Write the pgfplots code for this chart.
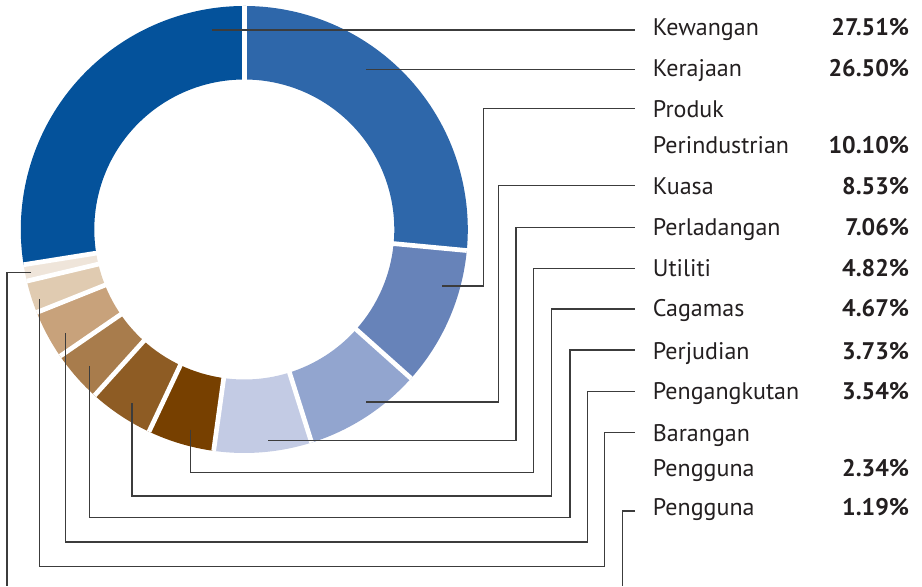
\documentclass[border=0pt]{standalone}
\usepackage{pgfplots}
\pgfplotsset{compat=1.18}
\usepackage{fontspec}
\setmainfont{PT Sans}
\definecolor{cKew}{HTML}{04529B}
\definecolor{cKer}{HTML}{2E67AA}
\definecolor{cPro}{HTML}{6783B9}
\definecolor{cKua}{HTML}{92A5CF}
\definecolor{cPer}{HTML}{C3CBE4}
\definecolor{cUti}{HTML}{774000}
\definecolor{cCag}{HTML}{8E5C24}
\definecolor{cJud}{HTML}{A87C4C}
\definecolor{cAng}{HTML}{C8A27B}
\definecolor{cBar}{HTML}{E0CBB1}
\definecolor{cPen}{HTML}{EFE5DA}
\definecolor{cLine}{HTML}{3C3C3C}
\definecolor{cText}{HTML}{231F20}
\tikzset{
  lab/.style={font=\fontsize{24bp}{29bp}\selectfont, text=cText, inner sep=0pt, anchor=base west},
  pct/.style={font=\fontsize{24bp}{29bp}\selectfont\bfseries, text=cText, inner sep=0pt, anchor=base east}}
\def\cx{244.3}
\def\cy{356.5}
% #1 = cumulative share before this slice (%), #2 = share (%), #3 = colour
\newcommand\donutwedge[3]{%
  \fill[#3] (axis cs:\cx,\cy) ++({90-3.6*(#1)}:223.5bp)
    arc[start angle={90-3.6*(#1)}, delta angle={-3.6*(#2)}, radius=223.5bp]
    -- ++({90-3.6*(#1+#2)}:-73.5bp)
    arc[start angle={90-3.6*(#1+#2)}, delta angle={3.6*(#2)}, radius=150bp]
    -- cycle;}
\newcommand\sep[1]{\draw[white, line width=4.7bp] (axis cs:\cx,\cy) -- ++({90-3.6*(#1)}:223.5bp);}
\begin{document}
\begin{tikzpicture}
\begin{axis}[x=1bp, y=1bp, xmin=0, xmax=922, ymin=0, ymax=586,
  hide axis, clip=false]
\path (axis cs:0,0) rectangle (axis cs:922,586);
% slices, clockwise from 12 o'clock
\donutwedge{0}{26.50}{cKer}
\donutwedge{26.50}{10.10}{cPro}
\donutwedge{36.60}{8.53}{cKua}
\donutwedge{45.13}{7.06}{cPer}
\donutwedge{52.19}{4.82}{cUti}
\donutwedge{57.01}{4.67}{cCag}
\donutwedge{61.68}{3.73}{cJud}
\donutwedge{65.41}{3.54}{cAng}
\donutwedge{68.95}{2.34}{cBar}
\donutwedge{71.29}{1.19}{cPen}
\donutwedge{72.48}{27.51}{cKew}
\sep{0}\sep{26.50}\sep{36.60}\sep{45.13}\sep{52.19}\sep{57.01}\sep{61.68}\sep{65.41}\sep{68.95}\sep{71.29}\sep{72.48}
% leader lines
\begin{scope}[cLine, line width=1.3bp]
\draw (axis cs:212,556) -- (axis cs:635,556);
\draw (axis cs:366,516.3) -- (axis cs:635,516.3);
\draw (axis cs:442,300) -- (axis cs:483.3,300) -- (axis cs:483.3,477.7) -- (axis cs:635,477.7);
\draw (axis cs:366,184) -- (axis cs:498.3,184) -- (axis cs:498.3,400.3) -- (axis cs:635,400.3);
\draw (axis cs:268,145.3) -- (axis cs:516,145.3) -- (axis cs:516,358.7) -- (axis cs:635,358.7);
\draw (axis cs:190.7,156) -- (axis cs:190.7,113.3) -- (axis cs:533.3,113.3) -- (axis cs:533.3,317.7) -- (axis cs:635,317.7);
\draw (axis cs:132,182.7) -- (axis cs:132,90) -- (axis cs:551.7,90) -- (axis cs:551.7,277) -- (axis cs:635,277);
\draw (axis cs:89.3,220) -- (axis cs:89.3,68.7) -- (axis cs:570,68.7) -- (axis cs:570,236) -- (axis cs:635,236);
\draw (axis cs:65.3,252.7) -- (axis cs:65.3,44) -- (axis cs:587.3,44) -- (axis cs:587.3,194.3) -- (axis cs:635,194.3);
\draw (axis cs:39.3,287) -- (axis cs:39.3,19.3) -- (axis cs:604.5,19.3) -- (axis cs:604.5,153.3) -- (axis cs:635,153.3);
\draw (axis cs:31,313.3) -- (axis cs:7,313.3) -- (axis cs:7,0);
\draw (axis cs:635,75) -- (axis cs:622.7,75) -- (axis cs:622.7,0);
\end{scope}
% labels
\node[lab] at (axis cs:652.7,550) {Kewangan};
\node[pct] at (axis cs:909.3,550) {27.51\%};
\node[lab] at (axis cs:652.7,509.3) {Kerajaan};
\node[pct] at (axis cs:909.3,509.3) {26.50\%};
\node[lab] at (axis cs:652.7,468.7) {Produk};
\node[lab] at (axis cs:652.7,432) {Perindustrian};
\node[pct] at (axis cs:909.3,432) {10.10\%};
\node[lab] at (axis cs:652.7,391.7) {Kuasa};
\node[pct] at (axis cs:909.3,391.7) {8.53\%};
\node[lab] at (axis cs:652.7,350) {Perladangan};
\node[pct] at (axis cs:909.3,350) {7.06\%};
\node[lab] at (axis cs:652.7,309.3) {Utiliti};
\node[pct] at (axis cs:909.3,309.3) {4.82\%};
\node[lab] at (axis cs:652.7,269.3) {Cagamas};
\node[pct] at (axis cs:909.3,269.3) {4.67\%};
\node[lab] at (axis cs:652.7,226) {Perjudian};
\node[pct] at (axis cs:909.3,226) {3.73\%};
\node[lab] at (axis cs:652.7,186) {Pengangkutan};
\node[pct] at (axis cs:909.3,186) {3.54\%};
\node[lab] at (axis cs:652.7,144.3) {Barangan};
\node[lab] at (axis cs:652.7,109.3) {Pengguna};
\node[pct] at (axis cs:909.3,109.3) {2.34\%};
\node[lab] at (axis cs:652.7,70.3) {Pengguna};
\node[pct] at (axis cs:909.3,70.3) {1.19\%};
\end{axis}
\end{tikzpicture}
\end{document}
